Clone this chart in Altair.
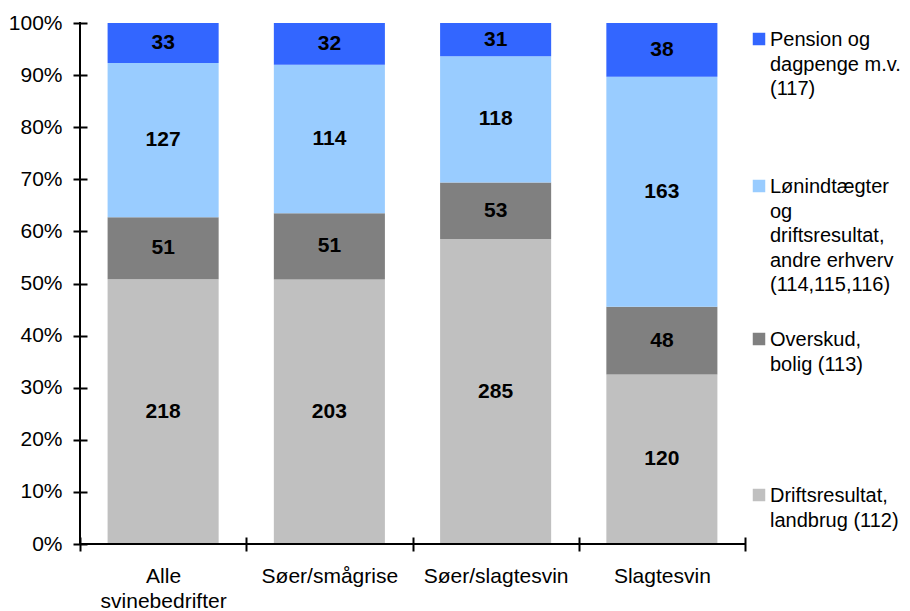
import altair as alt
import pandas as pd

categories = ["Alle svinebedrifter", "Søer/smågrise", "Søer/slagtesvin", "Slagtesvin"]
series = [
    "Driftsresultat,\nlandbrug (112)",
    "Overskud,\nbolig (113)",
    "Lønindtægter\nog\ndriftsresultat,\nandre erhverv\n(114,115,116)",
    "Pension og\ndagpenge m.v.\n(117)",
]
drift = [218, 203, 285, 120]
overskud = [51, 51, 53, 48]
lon = [127, 114, 118, 163]
pension = [33, 32, 31, 38]
colors = ["#C0C0C0", "#808080", "#99CCFF", "#3366FF"]

values = [drift, overskud, lon, pension]
rows = []
for k, (s, vals) in enumerate(zip(series, values)):
    for c, v in zip(categories, vals):
        rows.append({"category": c, "series": s, "k": k, "value": v})
df = pd.DataFrame(rows)

W, H = 665, 521
FONT = "Liberation Sans"
FS = 21

color_scale = alt.Scale(domain=series, range=colors)
y_scale = alt.Scale(domain=[0, 1], nice=False, zero=True)
x_enc = alt.X(
    "category:N",
    sort=categories,
    scale=alt.Scale(paddingInner=0, paddingOuter=0),
    axis=alt.Axis(
        title=None,
        tickBand="extent",
        labelExpr="split(datum.label, ' ')",
        labelAngle=0,
        domain=False,
        offset=-7,
        tickSize=14,
        tickWidth=2,
        tickColor="black",
        labelPadding=14,
        labelFontSize=FS,
        labelFont=FONT,
        labelColor="black",
        labelLineHeight=25,
    ),
)

base = alt.Chart(df)

bars = base.mark_bar(width=alt.RelativeBandSize(0.668)).encode(
    x=x_enc,
    y=alt.Y(
        "value:Q",
        stack="normalize",
        scale=y_scale,
        axis=alt.Axis(
            title=None,
            values=[i / 10 for i in range(11)],
            format=".0%",
            grid=False,
            domain=False,
            offset=-7,
            tickSize=14,
            tickWidth=2,
            tickColor="black",
            labelPadding=11,
            labelFontSize=FS,
            labelFont=FONT,
            labelColor="black",
        ),
    ),
    color=alt.Color("series:N", scale=color_scale, legend=None),
    order=alt.Order("k:Q", sort="ascending"),
)

labels = (
    base.transform_stack(
        stack="value",
        as_=["y0", "y1"],
        groupby=["category"],
        sort=[alt.SortField("k", order="ascending")],
        offset="normalize",
    )
    .transform_calculate(mid="(datum.y0 + datum.y1) / 2")
    .mark_text(font=FONT, fontSize=FS, fontWeight="bold", color="black", baseline="middle")
    .encode(
        x=alt.X("category:N", sort=categories),
        y=alt.Y("mid:Q", scale=y_scale),
        text=alt.Text("value:Q"),
    )
)

one = alt.Data(values=[{}])
y_domain = alt.Chart(one).mark_rule(color="black", strokeWidth=2).encode(
    x=alt.value(0), y=alt.value(-1), y2=alt.value(H + 1)
)
x_domain = alt.Chart(one).mark_rule(color="black", strokeWidth=2).encode(
    x=alt.value(-1), x2=alt.value(W + 1), y=alt.value(H)
)

legend_layers = []
legend_first_line = [472, 316, 163, 16]  # layout (px from plot top), by series order
for s, col, ly in zip(series, colors, legend_first_line):
    d = pd.DataFrame({"label": [s]})
    sq = alt.Chart(d).mark_square(color=col, size=156, opacity=1).encode(
        x=alt.value(W + 14), y=alt.value(ly)
    )
    tx = alt.Chart(d).mark_text(
        font=FONT, fontSize=20, color="black", align="left", baseline="top",
        lineBreak="\n", lineHeight=24.5,
    ).encode(x=alt.value(W + 25), y=alt.value(ly - 9), text="label:N")
    legend_layers += [sq, tx]

chart = alt.layer(bars, labels, y_domain, x_domain, *legend_layers).properties(
    width=W,
    height=H,
    autosize=alt.AutoSizeParams(type="none"),
    padding={"left": 72, "top": 15, "right": 157, "bottom": 67},
).configure_view(stroke=None)

chart.save("out.html", embed_options={"renderer": "svg", "actions": False})
